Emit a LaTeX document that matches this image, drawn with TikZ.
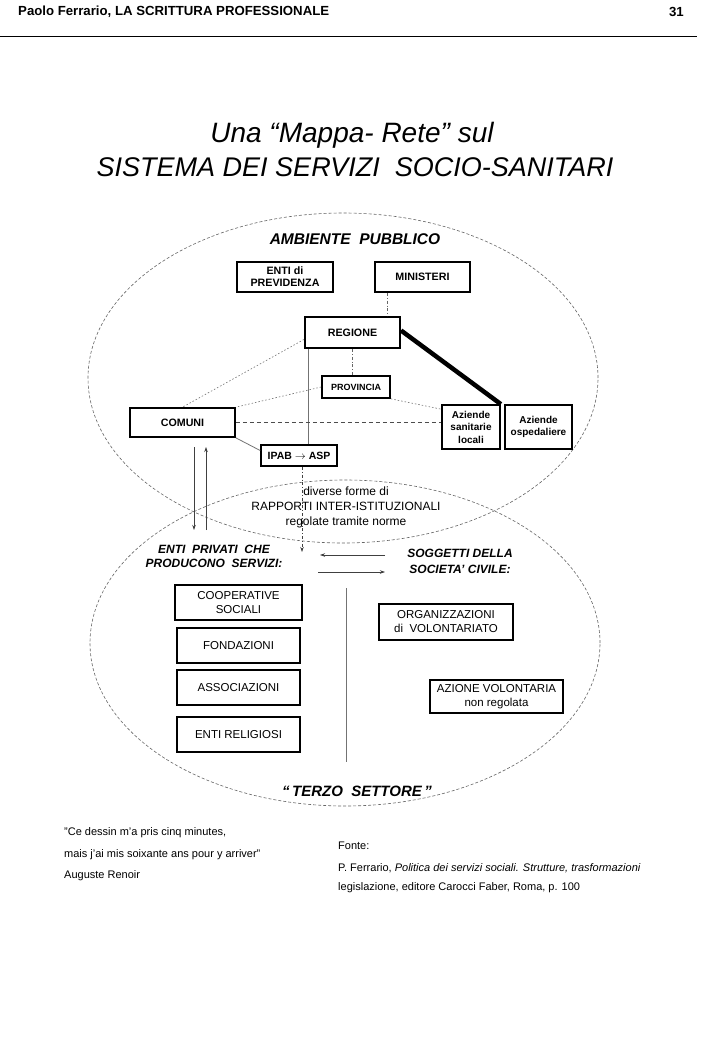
\documentclass[tikz,border=0pt]{standalone}
\usepackage{fontspec}
\setmainfont{Liberation Sans}
\usetikzlibrary{arrows.meta,shapes.geometric}
\begin{document}
\begin{tikzpicture}[x=1pt,y=-1pt,
 ubox/.style={draw=black,line width=1.7pt,fill=white,align=center,inner sep=0pt,font=\bfseries\fontsize{10.7}{12}\selectfont},
 lbox/.style={draw=black,line width=1.7pt,fill=white,align=center,inner sep=0pt,font=\fontsize{11.5}{14}\selectfont},
 ell/.style={draw=black!60,line width=0.6pt,dash pattern=on 3pt off 2pt,ellipse,inner sep=0pt},
 dd/.style={draw=black!60,line width=0.6pt,dash pattern=on 3pt off 2pt on 0.7pt off 2pt},
 dotl/.style={draw=black!55,line width=0.6pt,dash pattern=on 1.5pt off 2pt},
 thinl/.style={draw=black!55,line width=0.8pt},
 arr/.style={draw=black!75,line width=0.7pt,-{Stealth[length=5pt,width=3.5pt]}},
 lbl/.style={align=center,inner sep=0pt},
 plain/.style={anchor=west,inner sep=0pt,font=\fontsize{11}{13}\selectfont},
]
\useasboundingbox (0,0) rectangle (720,1040);
\fill[white] (0,0) rectangle (720,1040);

% header
\node[anchor=west,inner sep=0pt,font=\bfseries\fontsize{13.2}{15}\selectfont] (hdr) at (18,12) {Paolo Ferrario, LA SCRITTURA PROFESSIONALE};
\node[anchor=east,inner sep=0pt,font=\bfseries\fontsize{13.2}{15}\selectfont] (pg) at (684,12) {31};
\draw[line width=0.8pt] (0,36) -- (697,36);

% title
\node[lbl,font=\itshape\fontsize{28}{30}\selectfont] (t1) at (352,135) {Una “Mappa- Rete” sul};
\node[lbl,font=\itshape\fontsize{27}{30}\selectfont] (t2) at (355,167) {SISTEMA DEI SERVIZI\ \ SOCIO-SANITARI};

% ellipses
\node[ell,minimum width=510pt,minimum height=330pt] (pub) at (343,378) {};
\node[ell,minimum width=510pt,minimum height=326pt] (terzo) at (345,643) {};

\node[lbl,font=\bfseries\itshape\fontsize{15.5}{17}\selectfont] (amb) at (355,239) {AMBIENTE\ \ PUBBLICO};
\node[lbl,font=\bfseries\itshape\fontsize{15}{17}\selectfont] (ts) at (357,791) {“\,TERZO\ \ SETTORE\,”};

% upper boxes
\node[ubox,minimum width=96pt,minimum height=30pt] (prev) at (285,277) {ENTI di\\PREVIDENZA};
\node[ubox,minimum width=95pt,minimum height=30pt] (min) at (422.5,277) {MINISTERI};
\node[ubox,minimum width=95pt,minimum height=31pt,line width=2.1pt] (reg) at (352.5,332.5) {REGIONE};
\node[ubox,minimum width=68pt,minimum height=22pt,font=\bfseries\fontsize{9}{10}\selectfont] (prov) at (356,387) {PROVINCIA};
\node[ubox,minimum width=105pt,minimum height=29pt] (com) at (182.5,422.5) {COMUNI};
\node[ubox,minimum width=76pt,minimum height=21pt,font=\bfseries\fontsize{10.5}{11}\selectfont] (ipab) at (299,455.5) {IPAB $\rightarrow$ ASP};
\node[ubox,minimum width=58pt,minimum height=44pt,font=\bfseries\fontsize{10}{12.5}\selectfont] (asl) at (471,427) {Aziende\\sanitarie\\locali};
\node[ubox,minimum width=67pt,minimum height=44pt,font=\bfseries\fontsize{10}{12.5}\selectfont] (ao) at (538.5,427) {Aziende\\ospedaliere};

% upper connectors
\draw[dd] ([xshift=13pt]min.south west) -- ([xshift=13pt]min.south west |- reg.north);
\draw[dd] (reg.south) -- (reg.south |- prov.north);
\draw[thinl] ([xshift=4pt]reg.south west) -- ([xshift=4pt]reg.south west |- ipab.north);
\draw[line width=4.5pt] ([yshift=2pt]reg.east) -- (asl.north east);
\draw[dotl] ([yshift=-7pt]reg.west) -- (com.north);
\draw[dotl] (prov.west) -- (com.north east);
\draw[dotl] (prov.south east) -- ([yshift=-5pt]asl.north west);
\draw[draw=black!70,line width=0.7pt,dash pattern=on 4pt off 3pt] (com.east) -- (com.east -| asl.west);
\draw[thinl] (com.south east) -- ([yshift=5pt]ipab.west);

% arrows between areas
\coordinate (ipabEnd) at (302,552);
\draw[arr,dash pattern=on 3pt off 2pt on 0.7pt off 2pt] ([xshift=3pt]ipab.south) -- (ipabEnd);
\coordinate (dA) at (194,447);
\coordinate (dB) at (194,530);
\coordinate (uA) at (206,530);
\coordinate (uB) at (206,447);
\draw[arr] (dA) -- (dB);
\draw[arr] (uA) -- (uB);
\coordinate (h1a) at (385,555);
\coordinate (h1b) at (320,555);
\coordinate (h2a) at (318,572);
\coordinate (h2b) at (385,572);
\draw[arr] (h1a) -- (h1b);
\draw[arr] (h2a) -- (h2b);
\coordinate (dv1) at (346,588);
\coordinate (dv2) at (346,762);
\draw[thinl] (dv1) -- (dv2);

% middle texts
\node[lbl,font=\fontsize{12}{15}\selectfont] (rapp) at (346,507) {diverse forme di\\RAPPORTI INTER-ISTITUZIONALI\\regolate tramite norme};
\node[lbl,font=\bfseries\itshape\fontsize{12}{14}\selectfont] (ep) at (214,556) {ENTI\ \ PRIVATI\ \ CHE\\PRODUCONO\ \ SERVIZI:};
\node[lbl,font=\bfseries\itshape\fontsize{12}{16}\selectfont] (sc) at (460,561) {SOGGETTI DELLA\\SOCIETA' CIVILE:};

% lower boxes
\node[lbox,minimum width=127pt,minimum height=35pt] (coop) at (238.5,602.5) {COOPERATIVE\\SOCIALI};
\node[lbox,minimum width=123pt,minimum height=35pt] (fond) at (238.5,645.5) {FONDAZIONI};
\node[lbox,minimum width=123pt,minimum height=35pt] (assoc) at (238.5,687.5) {ASSOCIAZIONI};
\node[lbox,minimum width=123pt,minimum height=35pt] (relig) at (238.5,734.5) {ENTI RELIGIOSI};
\node[lbox,minimum width=134pt,minimum height=36pt] (org) at (446,622) {ORGANIZZAZIONI\\di\ \ VOLONTARIATO};
\node[lbox,minimum width=133pt,minimum height=33pt] (az) at (496.5,696.5) {AZIONE VOLONTARIA\\non regolata};

% bottom texts
\node[plain] (q1) at (64,833) {"Ce dessin m'a pris cinq minutes,};
\node[plain] (q2) at (64,855) {mais j'ai mis soixante ans pour y arriver"};
\node[plain] (q3) at (64,876) {Auguste Renoir};
\node[plain] (f1) at (338,846) {Fonte:};
\node[plain] (f2) at (338,868) {P. Ferrario, \textit{Politica dei servizi sociali. Strutture, trasformazioni}};
\node[plain] (f3) at (338,888) {legislazione, editore Carocci Faber, Roma, p. 100};
\end{tikzpicture}
\end{document}
